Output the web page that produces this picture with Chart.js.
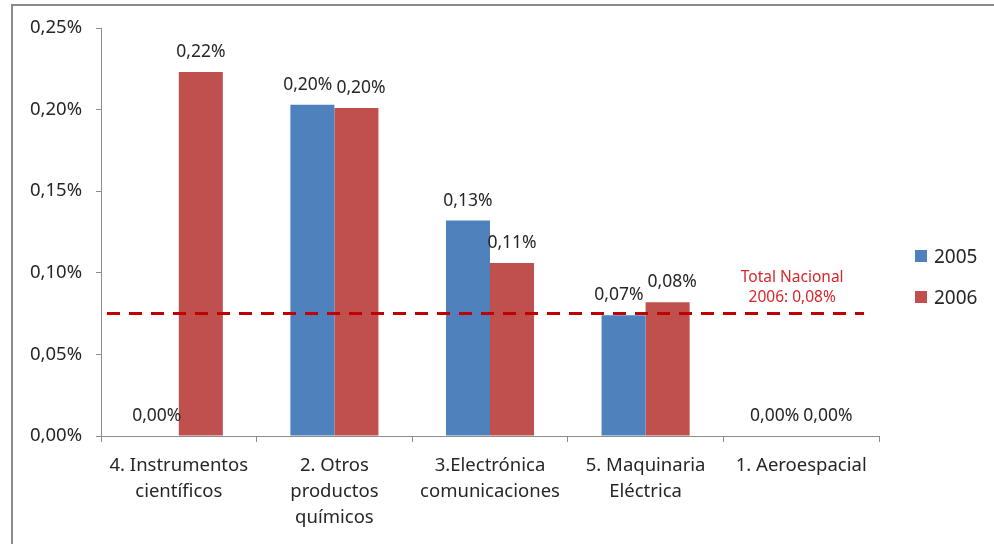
<!DOCTYPE html>
<html lang="es">
<head>
<meta charset="utf-8">
<script src="https://cdn.jsdelivr.net/npm/chart.js@4"></script>
<style>
  html, body { margin: 0; padding: 0; background: #fff; overflow: hidden; }
  #contenedor { position: relative; width: 994px; height: 544px; }
  #marco {
    position: absolute; left: 11px; top: 4px; width: 1000px; height: 600px;
    border: 2px solid #8a8a8a; box-sizing: border-box;
  }
  #graficoBarras { position: absolute; left: 0; top: 0; }
  #leyenda {
    position: absolute; left: 915px; top: 246px;
    font-family: "Noto Sans", sans-serif; font-size: 19px; color: #262626;
  }
  .item { display: flex; align-items: center; height: 20px; margin-bottom: 21px; }
  .caja { width: 12px; height: 12px; margin-right: 7px; }
</style>
</head>
<body>
<div id="contenedor">
  <div id="marco"></div>
  <canvas id="graficoBarras" width="994" height="544"></canvas>
  <div id="leyenda"></div>
</div>
<script>
const categorias = [
  ["4. Instrumentos", "científicos"],
  ["2. Otros", "productos", "químicos"],
  ["3.Electrónica", "comunicaciones"],
  ["5. Maquinaria", "Eléctrica"],
  ["1. Aeroespacial"]
];
const anios = ["2005", "2006"];
const valores2005 = [0, 0.203, 0.132, 0.074, 0];
const valores2006 = [0.223, 0.201, 0.106, 0.082, 0];
const totalNacional2006 = 0.075;
const ticksY = [0, 0.05, 0.10, 0.15, 0.20, 0.25];

const colores = ["#4F81BD", "#C0504D"];
const fuente = '"Noto Sans", sans-serif';

function formato(v) {
  return (Math.round(v * 100) / 100).toFixed(2).replace(".", ",") + "%";
}

// etiquetas de valor encima de cada barra, separadas si se pisan
const etiquetasBarras = {
  id: "etiquetasBarras",
  afterDatasetsDraw(chart) {
    const ctx = chart.ctx;
    ctx.save();
    ctx.font = "17.5px " + fuente;
    ctx.fillStyle = "#262626";
    ctx.textAlign = "center";
    ctx.textBaseline = "middle";
    const m0 = chart.getDatasetMeta(0);
    const m1 = chart.getDatasetMeta(1);
    categorias.forEach((c, i) => {
      const a = m0.data[i], b = m1.data[i];
      const ta = formato(chart.data.datasets[0].data[i]);
      const tb = formato(chart.data.datasets[1].data[i]);
      let xa = a.x, ya = a.y - 20;
      let xb = b.x, yb = b.y - 20;
      const wa = ctx.measureText(ta).width, wb = ctx.measureText(tb).width;
      const hueco = (xb - wb / 2) - (xa + wa / 2);
      if (Math.abs(ya - yb) < 16 && hueco < 4) {
        const d = (4 - hueco) / 2;
        xa -= d;
        xb += d;
      }
      ctx.fillText(ta, xa, ya);
      ctx.fillText(tb, xb, yb);
    });
    ctx.restore();
  }
};

// línea discontinua del total nacional con su rótulo
const lineaTotal = {
  id: "lineaTotal",
  afterDatasetsDraw(chart) {
    const ctx = chart.ctx;
    const area = chart.chartArea;
    const y = chart.scales.y.getPixelForValue(totalNacional2006);
    ctx.save();
    ctx.strokeStyle = "#C00000";
    ctx.lineWidth = 3;
    ctx.setLineDash([13, 9]);
    ctx.beginPath();
    ctx.moveTo(area.left + 6, y);
    ctx.lineTo(area.right - 15, y);
    ctx.stroke();
    ctx.setLineDash([]);
    ctx.font = "15.5px " + fuente;
    ctx.fillStyle = "#D8262B";
    ctx.textAlign = "center";
    ctx.textBaseline = "middle";
    const xt = chart.scales.x.getPixelForValue(4) - 9;
    ctx.fillText("Total Nacional", xt, y - 36);
    ctx.fillText("2006: " + formato(totalNacional2006), xt, y - 16);
    ctx.restore();
  }
};

const grafico = new Chart(document.getElementById("graficoBarras"), {
  type: "bar",
  data: {
    labels: categorias,
    datasets: [
      { label: anios[0], data: valores2005, backgroundColor: colores[0] },
      { label: anios[1], data: valores2006, backgroundColor: colores[1] }
    ]
  },
  options: {
    responsive: false,
    animation: false,
    categoryPercentage: 0.566,
    barPercentage: 1,
    layout: { padding: { top: 28, right: 115, left: 0, bottom: 0 } },
    plugins: {
      legend: { display: false },
      tooltip: { enabled: false }
    },
    scales: {
      x: {
        grid: { drawOnChartArea: false, drawTicks: true, tickLength: 6, color: "#8c8c8c", offset: true },
        border: { display: true, color: "#8c8c8c" },
        ticks: {
          font: { family: fuente, size: 18.5, lineHeight: 1.4 }, color: "#262626",
          padding: 11, maxRotation: 0, autoSkip: false
        },
        afterFit(s) { s.height = 108; }
      },
      y: {
        min: 0,
        max: 0.25,
        afterBuildTicks(s) { s.ticks = ticksY.map(v => ({ value: v })); },
        grid: { drawOnChartArea: false, drawTicks: true, tickLength: 5, color: "#8c8c8c" },
        border: { display: true, color: "#8c8c8c" },
        ticks: {
          font: { family: fuente, size: 18.5 }, color: "#262626", padding: 14,
          callback: v => formato(v)
        },
        afterFit(s) { s.width = 101; }
      }
    }
  },
  plugins: [etiquetasBarras, lineaTotal]
});

// leyenda a la derecha
const leyenda = document.getElementById("leyenda");
grafico.data.datasets.forEach(ds => {
  const item = document.createElement("div");
  item.className = "item";
  const caja = document.createElement("div");
  caja.className = "caja";
  caja.style.background = ds.backgroundColor;
  const texto = document.createElement("span");
  texto.textContent = ds.label;
  item.appendChild(caja);
  item.appendChild(texto);
  leyenda.appendChild(item);
});
</script>
</body>
</html>
